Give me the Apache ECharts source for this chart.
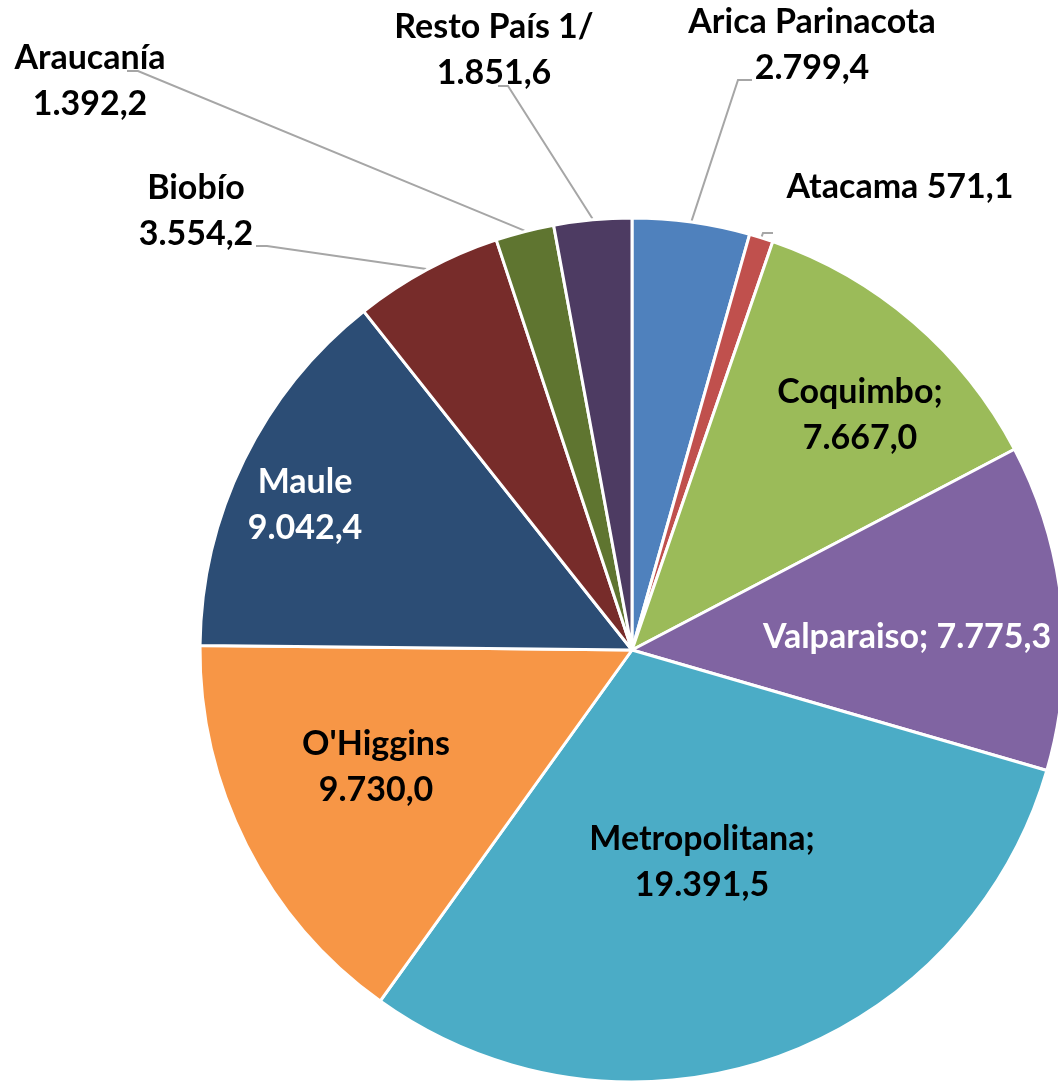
<!DOCTYPE html>
<html>
<head>
<meta charset="utf-8">
<script src="https://cdn.jsdelivr.net/npm/echarts@6/dist/echarts.min.js"></script>
<style>
  html, body { margin: 0; padding: 0; background: #fff; }
  #chart { width: 1058px; height: 1081px; }
</style>
</head>
<body>
<div id="chart"></div>
<script>
// datos por región (sentido horario desde arriba)
const regiones = ['Arica Parinacota', 'Atacama', 'Coquimbo', 'Valparaiso', 'Metropolitana',
  "O'Higgins", 'Maule', 'Biobío', 'Araucanía', 'Resto País 1/'];
const valores = [2799.4, 571.1, 7667.0, 7775.3, 19391.5, 9730.0, 9042.4, 3554.2, 1392.2, 1851.6];
const colores = ['#4F81BD', '#C0504D', '#9BBB59', '#8064A2', '#4BACC6',
  '#F79646', '#2C4D75', '#772C2A', '#5F7530', '#4D3B62'];

// separador entre nombre y valor en la etiqueta
const separador = ['\n', ' ', ';\n', '; ', ';\n', '\n', '\n', '\n', '\n', '\n'];
const dentro = [false, false, true, true, true, true, true, false, false, false];
const colorTexto = ['#000', '#000', '#000', '#fff', '#000', '#000', '#fff', '#000', '#000', '#000'];

// centro de cada etiqueta (px)
const posEtiqueta = [[812, 45], [900, 187], [860, 415], [907, 637], [702, 862],
  [376, 767], [305, 505], [196, 211], [90, 81], [494, 50]];
// codo y final de las líneas guía
const guia = {
  0: [[738, 80], [752, 80]],
  1: [[763, 233], [773, 233]],
  7: [[267, 246], [256, 246]],
  8: [[138, 71], [127, 71]],
  9: [[508, 86], [498, 86]]
};

const cx = 632, cy = 650, R = 432;
const total = valores.reduce((a, b) => a + b, 0);

function fmt(v) {
  const partes = v.toFixed(1).split('.');
  return partes[0].replace(/\B(?=(\d{3})+(?!\d))/g, '.') + ',' + partes[1];
}

// punto del borde en el ángulo medio de cada porción
const bordes = [];
let acum = 0;
valores.forEach(v => {
  const t = (acum + v / 2) / total * Math.PI * 2;
  bordes.push([cx + (R + 1) * Math.sin(t), cy - (R + 1) * Math.cos(t)]);
  acum += v;
});

const datos = regiones.map((n, i) => ({
  name: n,
  value: valores[i],
  itemStyle: { color: colores[i] },
  label: {
    position: dentro[i] ? 'inside' : 'outside',
    color: colorTexto[i]
  },
  labelLine: { show: !dentro[i] }
}));

const chart = echarts.init(document.getElementById('chart'));
chart.setOption({
  backgroundColor: '#fff',
  animation: false,
  series: [{
    type: 'pie',
    center: [cx, cy],
    radius: [0, R],
    startAngle: 90,
    clockwise: true,
    avoidLabelOverlap: false,
    data: datos,
    itemStyle: { borderColor: '#fff', borderWidth: 3 },
    label: {
      show: true,
      fontFamily: 'Lato',
      fontWeight: 'bold',
      fontSize: 34,
      lineHeight: 46,
      formatter: p => p.name + separador[p.dataIndex] + fmt(p.value)
    },
    labelLine: {
      show: true,
      lineStyle: { color: '#a6a6a6', width: 2 }
    },
    labelLayout: p => {
      const i = p.dataIndex;
      const out = {
        x: posEtiqueta[i][0],
        y: posEtiqueta[i][1],
        align: 'center',
        verticalAlign: 'middle'
      };
      if (guia[i]) out.labelLinePoints = [bordes[i], guia[i][0], guia[i][1]];
      return out;
    },
    emphasis: { disabled: true }
  }]
});
</script>
</body>
</html>
